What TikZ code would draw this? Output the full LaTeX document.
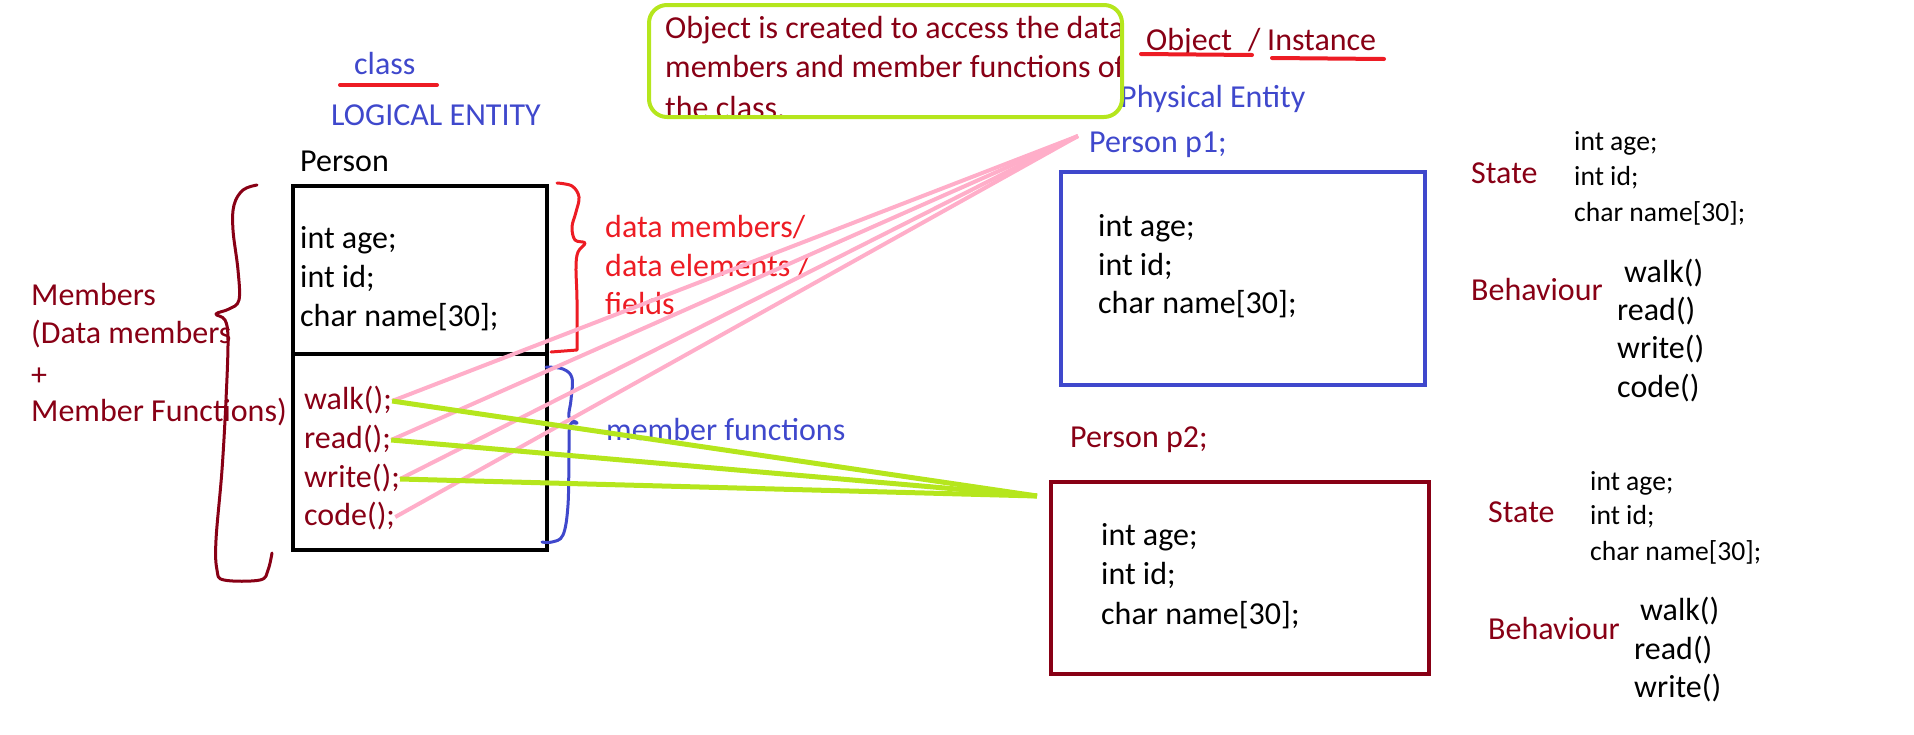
\documentclass[tikz,border=0pt]{standalone}
\usepackage{fontspec}
\setmainfont{Carlito}
\definecolor{pdark}{HTML}{880015}
\definecolor{pred}{HTML}{ED1C24}
\definecolor{ppink}{HTML}{FFAEC9}
\definecolor{plime}{HTML}{B5E61D}
\definecolor{pblue}{HTML}{3F48CC}

\begin{document}
\begin{tikzpicture}
  [x=1pt,y=-1pt,
   every node/.style={anchor=west,inner sep=0pt,text height=22pt,text depth=6pt,font=\fontsize{32}{38}\selectfont},
   small/.style={text height=19pt,text depth=5pt,font=\fontsize{27.6}{33}\selectfont},
   box/.style={line width=4pt},
   brace/.style={line width=3pt,line cap=round,line join=round},
   uline/.style={pred,line width=4pt,line cap=round},
   pinkline/.style={ppink,line width=4pt},
   limeline/.style={plime,line width=5pt}]
  \useasboundingbox (0,0) rectangle (1914,734);

  % the class
  \node[pblue] (cls) at (354,66) {class};
  \draw[uline] (340,85) -- (437,85);
  \node[pblue] (logical) at (331,117) {LOGICAL ENTITY};
  \node (person) at (300,163) {Person};
  \draw[box] (293,186) rectangle (547,550);
  \draw[box] (293,354) -- (547,354);
  \node (age) at (300,240) {int age;};
  \node (id) at (300,279) {int id;};
  \node (cname) at (300,318) {char name[30];};
  \foreach \m/\y in {walk/401,read/440,write/479,code/517}
    \node[pdark] (\m) at (304,\y) {\m();};

  \node[pdark] (mem1) at (31,297) {Members};
  \node[pdark] (mem2) at (31,335) {(Data members};
  \node[pdark] (mem3) at (31,377) {+};
  \node[pdark] (mem4) at (31,413) {Member Functions)};
  \draw[brace,pdark] plot[smooth,tension=.6] coordinates {(257,185) (243,190) (234,205) (233,230) (238,270) (239,300) (229,309) (216,314) (225,320) (228,340) (226,400) (222,470) (216,540) (217,570) (224,580) (260,580) (268,570) (272,553)};

  \node[pred] (dm1) at (605,229) {data members/};
  \node[pred] (dm2) at (605,268) {data elements /};
  \node[pred] (dm3) at (605,306) {fields};
  \draw[brace,pred] plot[smooth,tension=.6] coordinates {(557,183) (572,186) (579,197) (576,212) (572,227) (575,240) (585,243) (578,252) (576,267) (577,300) (577,350)} -- (551,352);

  \node[pblue] (mf) at (606,432) {member functions};
  \draw[brace,pblue] plot[smooth,tension=.6] coordinates {(546,367) (563,369) (572,378) (571,400) (569,417) (577,423) (570,425) (569,450) (568,505) (563,535) (552,542) (542,542)};

  % the note
  \begin{scope}
    \clip[rounded corners=18pt] (649,5) rectangle (1122,117);
    \node[pdark] (note1) at (665,30) {Object is created to access the data};
    \node[pdark] (note2) at (665,69) {members and member functions of};
    \node[pdark] (note3) at (665,110) {the class.};
  \end{scope}

  % the objects
  \node[pdark] (obj) at (1146,42) {Object};
  \node[pdark] (slash) at (1248,42) {/};
  \node[pdark] (inst) at (1267,42) {Instance};
  \draw[uline] (1141,54) -- (1252,55);
  \draw[uline] (1272,58) -- (1384,59);
  \node[pblue] (phys) at (1120,99) {Physical Entity};
  \draw[plime,line width=4pt,rounded corners=18pt] (649,5) rectangle (1122,117);

  \node[pblue] (p1) at (1089,144) {Person p1;};
  \draw[box,pblue] (1061,172) rectangle (1425,385);
  \node (p1age) at (1098,228) {int age;};
  \node (p1id) at (1098,267) {int id;};
  \node (p1name) at (1098,305) {char name[30];};
  \node[pdark] (state1) at (1471,175) {State};
  \node[small] (s1age) at (1574,143) {int age;};
  \node[small] (s1id) at (1574,178) {int id;};
  \node[small] (s1name) at (1574,214) {char name[30];};
  \node[pdark] (beh1) at (1471,292) {Behaviour};
  \node (b1walk) at (1624,274) {walk()};
  \node (b1read) at (1617,312) {read()};
  \node (b1write) at (1617,350) {write()};
  \node (b1code) at (1617,389) {code()};

  \node[pdark] (p2) at (1070,439) {Person p2;};
  \draw[box,pdark] (1051,482) rectangle (1429,674);
  \node (p2age) at (1101,537) {int age;};
  \node (p2id) at (1101,576) {int id;};
  \node (p2name) at (1101,616) {char name[30];};
  \node[pdark] (state2) at (1488,514) {State};
  \node[small] (s2age) at (1590,483) {int age;};
  \node[small] (s2id) at (1590,517) {int id;};
  \node[small] (s2name) at (1590,553) {char name[30];};
  \node[pdark] (beh2) at (1488,631) {Behaviour};
  \node (b2walk) at (1640,612) {walk()};
  \node (b2read) at (1634,651) {read()};
  \node (b2write) at (1634,689) {write()};

  % links
  \coordinate (p1tip) at (1078,136);
  \coordinate (p2tip) at (1037,496);
  \foreach \m in {walk,read,write,code}
    \draw[pinkline] (\m.east) -- (p1tip);
  \foreach \m in {walk,read,write}
    \draw[limeline] (\m.east) -- (p2tip);

\end{tikzpicture}
\end{document}
